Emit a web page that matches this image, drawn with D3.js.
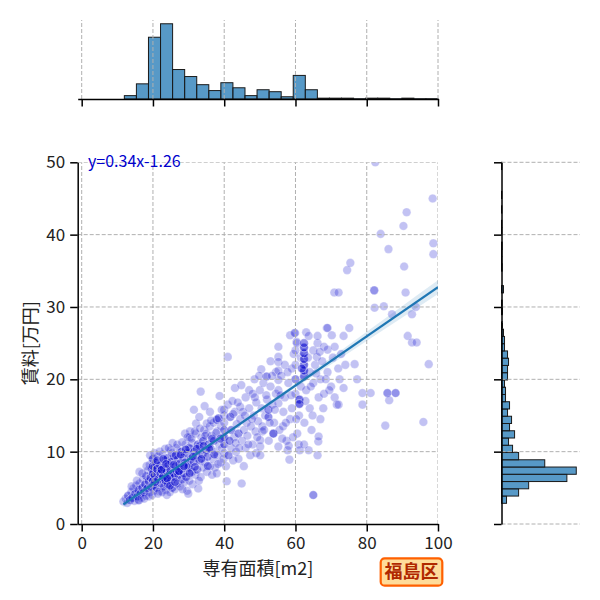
<!DOCTYPE html>
<html>
<head>
<meta charset="utf-8">
<title>福島区 専有面積と賃料</title>
<script src="https://d3js.org/d3.v7.min.js"></script>
<style>
  body { margin: 0; background: #fff; }
  svg { font-family: "Noto Sans CJK JP", "Noto Sans", sans-serif; }
</style>
</head>
<body>
<script>
// listings: [area m2, rent 万円, how many listings sit on that spot]
const flats = [
  [11.7,3.1,1],[12.3,3.5,1],[12.8,2.9,1],[13.0,3.9,2],[13.5,3.3,2],[13.9,4.4,1],[14.2,3.6,2],[14.5,4.9,1],
  [14.8,3.2,1],[15.0,4.2,2],[15.3,5.3,1],[15.6,3.8,2],[15.9,4.7,2],[16.2,7.2,1],[16.2,5.6,1],[16.5,4.2,2],
  [16.8,3.6,1],[17.0,5.0,2],[17.2,6.1,1],[17.5,4.4,2],[17.8,5.5,2],[18.0,3.9,1],[18.1,6.6,2],[18.4,4.9,2],
  [18.6,7.4,1],[18.8,5.9,2],[19.0,4.4,1],[19.1,8.2,1],[19.3,6.4,2],[19.5,5.1,2],[19.6,7.6,2],[19.9,8.9,1],
  [20.0,6.0,3],[20.0,7.0,3],[20.0,8.0,3],[20.0,9.0,2],[20.1,5.4,2],[20.3,4.6,1],[20.5,6.7,2],[20.8,8.5,2],
  [21.0,5.0,2],[21.1,7.6,3],[21.3,9.3,1],[21.5,6.2,3],[21.8,4.5,1],[22.0,8.1,2],[22.1,7.0,3],[22.3,5.6,2],
  [22.6,9.6,1],[22.8,6.5,3],[23.0,7.8,2],[23.1,5.2,2],[23.3,8.8,2],[23.5,6.0,3],[23.6,4.7,1],[23.9,4.0,1],
  [23.9,7.2,3],[24.1,9.1,2],[24.2,5.5,2],[24.3,8.2,2],[24.6,6.8,3],[24.7,4.4,1],[24.9,7.5,2],[25.0,10.2,1],
  [25.1,6.0,2],[25.2,8.6,2],[25.4,5.0,2],[25.6,7.0,3],[25.9,9.3,2],[26.0,6.5,2],[26.1,4.8,1],[26.3,8.0,2],
  [26.6,7.3,2],[26.6,10.5,1],[26.9,5.6,2],[27.0,9.0,2],[27.1,6.8,2],[27.4,8.3,2],[27.6,5.2,1],[27.6,10.0,1],
  [27.9,7.6,2],[28.0,10.0,2],[28.1,6.2,2],[28.4,9.2,2],[28.6,7.0,2],[28.9,5.8,1],[29.0,8.5,2],[29.0,12.5,1],
  [29.1,11.0,1],[29.3,6.5,2],[29.5,9.8,2],[29.6,4.6,1],[29.9,4.2,1],[29.9,7.8,2],[30.0,8.0,2],[30.1,10.5,2],
  [30.2,6.0,1],[30.3,12.0,1],[30.4,12.8,1],[30.4,10.4,1],[30.6,9.0,2],[30.9,7.2,2],[31.0,11.2,1],[31.1,5.5,1],
  [31.4,8.6,2],[31.5,15.8,1],[31.6,10.0,2],[31.9,6.8,1],[32.0,12.5,1],[32.1,9.5,2],[32.1,13.9,1],[32.4,7.5,2],
  [32.6,11.0,2],[32.7,4.9,1],[33.0,8.8,2],[33.0,14.8,1],[33.1,10.8,2],[33.4,6.5,1],[33.4,18.3,1],[33.6,12.0,1],
  [33.9,9.6,2],[34.0,7.8,1],[34.1,11.5,2],[34.4,13.0,1],[34.5,16.3,1],[34.6,8.5,1],[34.9,10.2,2],[35.0,12.5,1],
  [35.1,7.2,1],[35.1,13.9,1],[35.3,9.3,2],[35.6,11.0,2],[35.9,13.5,1],[36.0,8.0,1],[36.0,15.5,1],[36.1,10.5,2],
  [36.4,12.2,1],[36.6,6.8,1],[36.9,9.0,1],[37.0,14.0,1],[37.1,11.5,2],[37.4,7.8,1],[37.6,10.0,1],[37.9,7.0,1],
  [37.9,14.4,2],[38.0,12.8,1],[38.1,9.5,1],[38.4,14.6,2],[38.6,11.0,1],[38.7,17.7,1],[39.0,8.5,1],[39.1,13.5,1],
  [39.4,10.5,1],[39.6,12.0,1],[40.0,9.8,1],[40.0,11.0,2],[40.0,12.0,2],[40.0,13.0,2],[40.0,14.0,1],[40.0,15.0,1],
  [40.0,15.8,1],[40.5,8.0,1],[40.7,5.9,1],
  [14.0,5.2,1],[15.5,6.0,1],[16.0,3.3,2],[17.0,7.0,1],[17.5,3.5,1],[18.2,8.0,1],[18.9,3.8,1],[19.2,9.5,1],
  [19.8,4.0,1],[20.4,9.8,1],[20.6,5.8,2],[21.2,8.8,2],[21.4,4.2,1],[21.9,10.0,1],[22.4,7.5,3],[22.6,4.4,1],
  [22.9,9.0,2],[23.4,10.4,1],[23.7,8.3,2],[24.0,6.3,3],[24.4,10.5,1],[24.8,5.3,2],[25.3,9.8,1],[25.5,11.2,1],
  [25.8,8.2,2],[26.2,5.8,2],[26.4,9.5,2],[26.8,11.0,1],[27.3,7.3,3],[27.8,9.6,2],[28.2,11.3,1],[28.3,4.8,1],
  [28.7,8.0,3],[29.2,10.3,2],[29.7,12.0,1],[30.3,7.0,2],[30.8,11.8,1],[31.2,9.3,2],[31.7,12.8,1],[31.8,7.9,2],
  [32.3,10.4,2],[32.9,6.0,1],[33.2,13.2,1],[33.6,9.0,2],[34.2,10.8,2],[34.7,12.2,1],[35.4,8.0,2],[35.8,10.4,2],
  [36.3,14.3,1],[36.6,11.8,2],[37.2,9.6,2],[37.7,12.6,1],[38.3,8.3,1],[38.9,11.8,2],[39.3,15.8,1],[39.8,9.0,1],
  [41.0,16.5,1],[41.2,9.5,2],[41.7,14.8,2],[41.0,23.1,1],[42.0,10.5,1],[42.0,13.0,2],[42.3,17.0,1],[42.5,8.8,1],
  [42.8,12.0,1],[43.0,15.5,1],[43.0,18.8,1],[43.3,10.0,1],[43.5,13.8,1],[44.0,12.5,2],[44.0,9.0,1],[44.5,16.2,1],
  [44.5,14.5,1],[44.8,19.2,1],[44.9,5.6,1],[45.0,11.5,1],[45.2,15.5,1],[45.5,13.0,1],[45.5,8.0,1],[46.0,17.5,1],
  [46.0,10.5,1],[46.3,14.0,1],[46.5,12.2,1],[47.0,18.5,1],[47.0,16.0,1],[47.3,9.5,1],[47.5,13.5,1],[48.0,18.0,1],
  [48.0,11.0,1],[48.3,15.0,1],[48.5,20.0,1],[48.8,12.8,1],[49.0,16.8,1],[49.0,9.8,1],[49.5,14.2,1],[50.0,18.5,1],
  [50.1,9.5,1],[50.1,10.7,1],[50.1,11.6,1],[50.4,21.4,1],[50.5,16.0,1],[50.7,13.5,1],[50.7,12.8,1],[51.0,19.5,1],
  [51.5,15.0,1],[51.9,20.4,2],[52.0,17.2,1],[52.4,14.8,2],[52.4,15.8,2],[52.5,11.5,1],[53.0,19.0,1],[53.0,22.5,1],
  [53.5,16.5,1],[53.8,12.5,3],[54.0,14.0,1],[54.5,18.0,1],[54.5,21.0,1],[55.2,24.5,1],[55.2,23.1,1],[55.2,22.4,1],
  [55.2,21.2,1],[55.2,19.9,1],[55.2,18.5,1],[55.2,16.7,1],[55.2,10.7,1],[55.5,13.0,1],[56.0,20.5,1],[56.5,13.5,1],
  [56.6,15.5,1],[57.0,17.5,1],[57.0,22.0,1],[57.5,11.5,1],[57.8,10.2,1],[58.0,19.5,1],[58.1,10.8,1],[58.3,8.9,1],
  [58.5,26.1,1],[58.5,14.5,1],[59.0,21.5,1],[59.0,16.0,1],[59.5,23.5,1],[59.7,26.4,1],[59.9,26.4,1],[60.0,18.0,1],
  [60.0,20.0,2],[60.0,22.0,1],[60.0,24.0,1],[60.3,25.2,1],[60.4,25.0,1],[60.5,12.5,1],[60.9,11.0,1],[61.0,15.0,1],
  [61.1,17.2,3],[61.1,16.6,3],[61.2,10.2,1],[61.5,19.0,1],[61.5,23.0,1],[62.4,20.4,3],[62.4,21.2,3],[62.4,22.0,3],
  [62.4,22.8,3],[62.4,23.6,3],[62.4,24.4,3],[62.4,25.0,2],[62.4,11.0,1],[62.5,14.0,1],[63.0,18.5,1],[63.0,26.5,1],
  [63.7,26.0,1],[63.7,10.2,1],[64.0,21.0,1],[64.0,16.0,1],[64.5,13.0,1],[65.0,4.0,2],[65.0,19.5,1],[65.0,24.0,1],
  [65.5,22.0,1],[66.0,23.1,1],[66.2,25.0,1],[66.2,26.0,1],[66.2,9.5,1],[66.4,11.4,1],[66.5,12.1,1],[66.5,17.5,1],
  [67.0,20.0,1],[67.0,14.5,1],[67.5,22.5,1],[68.0,18.0,1],[68.0,24.5,1],[68.8,27.1,1],[69.0,27.1,1],[69.0,24.1,1],
  [69.0,21.0,1],[70.0,19.0,1],[70.2,26.1,1],[70.5,23.0,1],[71.0,17.5,1],[71.6,16.5,1],[72.0,21.5,1],[72.1,16.5,1],
  [72.4,20.0,1],[73.5,26.0,1],[74.0,22.0,1],[75.1,27.1,1],[76.6,22.1,1],[77.3,20.0,1],
  [41.5,11.5,2],[42.5,15.2,1],[43.2,11.2,1],[43.8,16.8,1],[44.2,10.5,1],[45.8,15.0,1],[46.8,11.0,1],[47.8,14.5,1],
  [48.6,17.5,1],[49.3,12.0,1],[49.8,20.5,1],[51.2,13.0,1],[51.8,17.8,1],[52.8,14.0,1],[53.4,20.5,1],[54.2,15.8,1],
  [55.8,17.8,1],[56.3,11.8,1],[57.3,14.0,1],[57.8,21.0,1],[58.8,17.8,1],[59.3,12.0,1],[60.2,14.5,1],[61.8,21.5,2],
  [62.8,17.0,1],[63.5,23.0,1],[64.3,19.0,1],[64.8,15.0,1],[65.8,20.8,1],[66.8,23.8,1],[67.8,16.0,1],[68.5,20.0,1],
  [69.5,18.5,1],[71.0,24.5,1],[72.8,23.5,1],[73.5,18.8,1],
  [70.9,32.0,1],[72.1,32.0,1],[74.5,35.1,1],[75.4,36.1,1],[78.8,18.1,1],[78.8,16.5,1],[81.1,18.1,1],[82.1,32.3,2],
  [82.2,29.9,1],[82.4,50.0,1],[83.9,40.1,1],[84.8,30.1,1],[85.2,13.6,1],[85.8,18.1,2],[86.1,38.0,1],[86.3,17.1,1],
  [87.1,29.0,1],[88.1,18.1,2],[90.3,41.2,1],[90.5,35.6,1],[90.9,32.0,1],[91.2,43.1,1],[91.5,26.0,1],[92.7,29.0,1],
  [92.7,25.1,1],[93.8,30.0,1],[94.0,25.1,1],[95.9,14.1,1],[97.4,22.1,1],[98.5,45.0,1],[98.7,38.8,1],[98.7,37.3,1]
];

// marginal histograms, counts per bin
const areaBinStart = 11.97, areaBinWidth = 3.386;
const areaCounts = [12,54,220,268,105,80,51,30,58,40,12,33,26,8,84,33,3,3,3,1,3,3,1,3,1,1];
const rentBinStart = 2.86, rentBinWidth = 1.003;
const rentCounts = [15,51,81,195,223,129,51,33,21,39,24,30,18,24,12,12,9,18,18,21,18,9,9,6,3,
                    0,3,2,0,6,0,0,2,1,1,2,0,1,1,0,1,0,1,0,0,0,1];

// fitted line and its confidence band
const fitSlope = 0.34, fitIntercept = -1.26;
const fitFrom = 11.7, fitTo = 100;
const bandX    = [11.7, 20, 33, 45, 60, 75, 90, 100];
const bandHalf = [0.45, 0.3, 0.18, 0.2, 0.32, 0.55, 0.8, 0.95];

const xTicks = [0, 20, 40, 60, 80, 100];
const yTicks = [0, 10, 20, 30, 40, 50];
const ward = "福島区";

var width = 600, height = 600;
var svg = d3.select("body").append("svg")
  .attr("width", width).attr("height", height);

var x = d3.scaleLinear().domain([-1.12, 100]).range([77.7, 438]);
var y = d3.scaleLinear().domain([0, 50]).range([524, 162.3]);
var topY = d3.scaleLinear().domain([0, d3.max(areaCounts) * 1.05]).range([99, 20]);
var rightX = d3.scaleLinear().domain([0, d3.max(rentCounts) * 1.05]).range([501.5, 580]);

var gridColor = "#b0b0b0", gridDash = "4,2";

//clip for main axes
svg.append("clipPath").attr("id", "clipMain")
  .append("rect").attr("x", x.range()[0]).attr("y", y.range()[1])
  .attr("width", x.range()[1] - x.range()[0]).attr("height", y.range()[0] - y.range()[1]);

// ---- top histogram
var topG = svg.append("g");
topG.selectAll(".bar").data(areaCounts).enter().append("rect")
  .attr("x", (d, i) => x(areaBinStart + i * areaBinWidth))
  .attr("width", (d, i) => x(areaBinStart + (i + 1) * areaBinWidth) - x(areaBinStart + i * areaBinWidth))
  .attr("y", d => topY(d))
  .attr("height", d => topY(0) - topY(d))
  .attr("fill", "rgba(31,119,180,0.75)")
  .attr("stroke", "#1a1a1a").attr("stroke-width", 1);
topG.selectAll(".grid").data(xTicks).enter().append("line")
  .attr("x1", d => x(d)).attr("x2", d => x(d))
  .attr("y1", topY.range()[0]).attr("y2", topY.range()[1])
  .attr("stroke", gridColor).attr("stroke-dasharray", gridDash);
topG.append("g").attr("transform", "translate(0," + topY(0) + ")")
  .call(d3.axisBottom(x).tickValues(xTicks).tickSize(7.5).tickSizeOuter(0).tickFormat(""))
  .call(g => g.selectAll("path,line").attr("stroke", "#000").attr("stroke-width", 1.5));

// ---- right histogram
var rightG = svg.append("g");
rightG.selectAll(".bar").data(rentCounts).enter().append("rect")
  .attr("x", rightX(0))
  .attr("y", (d, i) => y(rentBinStart + (i + 1) * rentBinWidth))
  .attr("height", (d, i) => y(rentBinStart + i * rentBinWidth) - y(rentBinStart + (i + 1) * rentBinWidth))
  .attr("width", d => rightX(d) - rightX(0))
  .attr("fill", "rgba(31,119,180,0.75)")
  .attr("stroke", "#1a1a1a").attr("stroke-width", 1);
rightG.selectAll(".grid").data(yTicks).enter().append("line")
  .attr("x1", rightX.range()[0]).attr("x2", rightX.range()[1])
  .attr("y1", d => y(d)).attr("y2", d => y(d))
  .attr("stroke", gridColor).attr("stroke-dasharray", gridDash);
rightG.append("g").attr("transform", "translate(" + rightX(0) + ",0)")
  .call(d3.axisLeft(y).tickValues(yTicks).tickSize(7.5).tickSizeOuter(0).tickFormat(""))
  .call(g => g.selectAll("path,line").attr("stroke", "#000").attr("stroke-width", 1.5));

// ---- main scatter
var mainG = svg.append("g");
var plotG = mainG.append("g").attr("clip-path", "url(#clipMain)");

var dots = flats.flatMap(d => d3.range(d[2]).map(() => d));
plotG.selectAll(".dot").data(dots).enter().append("circle")
  .attr("cx", d => x(d[0])).attr("cy", d => y(d[1])).attr("r", 4.3)
  .attr("fill", "#0000cd").attr("fill-opacity", 0.24)
  .attr("stroke", "#fff").attr("stroke-width", 1).attr("stroke-opacity", 0.25);

// grid sits above the dots, below the fit
plotG.selectAll(".vgrid").data(xTicks).enter().append("line")
  .attr("x1", d => x(d)).attr("x2", d => x(d))
  .attr("y1", y(0)).attr("y2", y(50))
  .attr("stroke", gridColor).attr("stroke-dasharray", gridDash);
plotG.selectAll(".hgrid").data(yTicks.slice(1)).enter().append("line")
  .attr("x1", x.range()[0]).attr("x2", x.range()[1])
  .attr("y1", d => y(d)).attr("y2", d => y(d))
  .attr("stroke", gridColor).attr("stroke-dasharray", gridDash);

var fit = v => fitSlope * v + fitIntercept;
var band = d3.area().curve(d3.curveMonotoneX)
  .x((d, i) => x(d))
  .y0((d, i) => y(fit(d) - bandHalf[i]))
  .y1((d, i) => y(fit(d) + bandHalf[i]));
plotG.append("path").datum(bandX).attr("d", band)
  .attr("fill", "#1f77b4").attr("fill-opacity", 0.15);
plotG.append("line")
  .attr("x1", x(fitFrom)).attr("y1", y(fit(fitFrom)))
  .attr("x2", x(fitTo)).attr("y2", y(fit(fitTo)))
  .attr("stroke", "#1f77b4").attr("stroke-width", 2.3);

// axes
mainG.append("g").attr("transform", "translate(0," + y(0) + ")")
  .call(d3.axisBottom(x).tickValues(xTicks).tickSize(7.5).tickSizeOuter(0).tickPadding(5))
  .call(g => g.selectAll("path,line").attr("stroke", "#000").attr("stroke-width", 1.5))
  .call(g => g.selectAll("text").attr("font-size", 17).attr("fill", "#222")
    .attr("font-family", "'Noto Sans CJK JP', sans-serif"));
mainG.append("g").attr("transform", "translate(" + x.range()[0] + ",0)")
  .call(d3.axisLeft(y).tickValues(yTicks).tickSize(7.5).tickSizeOuter(0).tickPadding(5))
  .call(g => g.selectAll("path,line").attr("stroke", "#000").attr("stroke-width", 1.5))
  .call(g => g.selectAll("text").attr("font-size", 17).attr("fill", "#222")
    .attr("font-family", "'Noto Sans CJK JP', sans-serif"));

// labels
svg.append("text")
  .attr("x", (x.range()[0] + x.range()[1]) / 2).attr("y", 575)
  .attr("text-anchor", "middle").attr("font-size", 18).attr("fill", "#222")
  .text("専有面積[m2]");
svg.append("text")
  .attr("transform", "translate(37," + (y.range()[0] + y.range()[1]) / 2 + ") rotate(-90)")
  .attr("text-anchor", "middle").attr("font-size", 18).attr("fill", "#222")
  .text("賃料[万円]");

svg.append("text")
  .attr("x", 88).attr("y", 167)
  .attr("font-size", 16).attr("fill", "#0000cd")
  .text("y=" + fitSlope + "x" + fitIntercept);

// ward tag
var tag = svg.append("g").attr("transform", "translate(411.5,572)");
tag.append("rect").attr("x", -30.8).attr("y", -13.7).attr("width", 61.6).attr("height", 27.4)
  .attr("rx", 4).attr("fill", "#ffdc9a").attr("stroke", "#ff6000").attr("stroke-width", 2.2);
tag.append("text").attr("text-anchor", "middle").attr("dy", "0.36em")
  .attr("font-size", 18).attr("font-weight", "bold").attr("fill", "#b02800")
  .text(ward);
</script>
</body>
</html>
